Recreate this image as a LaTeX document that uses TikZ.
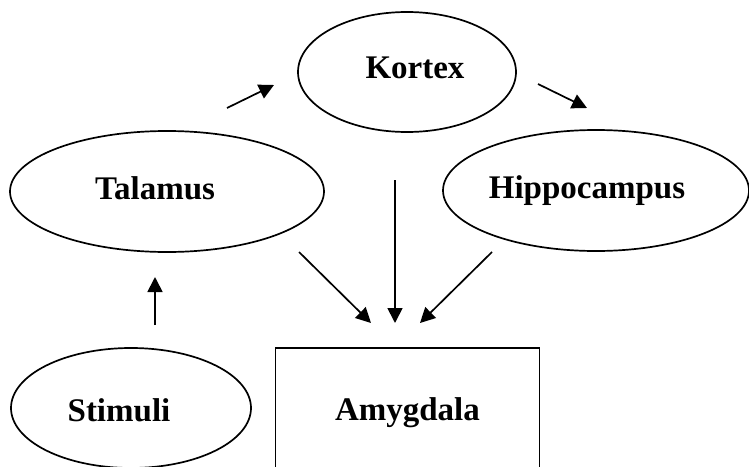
\documentclass[tikz,border=0pt]{standalone}
\usepackage{fontspec}
\setmainfont{Liberation Serif}
\usetikzlibrary{shapes.geometric,arrows.meta}

\begin{document}
\begin{tikzpicture}[x=0.5pt,y=-0.5pt,line width=0.85pt,
		every node/.style={font=\fontsize{16.5}{19}\selectfont\bfseries},
		area/.style={draw,ellipse,inner sep=0pt},
		pfeil/.style={-{Stealth[inset=0pt,length=7.5pt,width=7.5pt]}}]
		\clip (0,0) rectangle (749,466);
		\node[area,minimum width=109pt,minimum height=60pt,label={[xshift=4pt,yshift=2pt]center:Kortex}] (kor) at (407,72) {};
		\node[area,minimum width=157pt,minimum height=60.5pt,label={[xshift=-6pt,yshift=1.75pt]center:Talamus}] (tal) at (167,191.5) {};
		\node[area,minimum width=153pt,minimum height=60.5pt,label={[xshift=-4.5pt]center:Hippocampus}] (hip) at (596,190.5) {};
		\node[area,minimum width=120pt,minimum height=60pt,label={[xshift=-6pt,yshift=-1.25pt]center:Stimuli}] (sti) at (131,408) {};
		\node[draw,rectangle,minimum width=132pt,minimum height=65pt] (amy) at (407.5,413) {Amygdala};
		% lose Pfeilenden
		\coordinate (tal-kor-a) at (227,108);
		\coordinate (tal-kor-b) at (274,85);
		\coordinate (kor-hip-a) at (538,84);
		\coordinate (kor-hip-b) at (587,108);
		\coordinate (sti-tal-a) at (155,325);
		\coordinate (sti-tal-b) at (155,277);
		\coordinate (tal-amy-a) at (299,252);
		\coordinate (tal-amy-b) at (371,323);
		\coordinate (kor-amy-a) at (395,180);
		\coordinate (kor-amy-b) at (395,323);
		\coordinate (hip-amy-a) at (492,252);
		\coordinate (hip-amy-b) at (420,323);
		\path[pfeil]
		(tal-kor-a) edge (tal-kor-b)
		(kor-hip-a) edge (kor-hip-b)
		(sti-tal-a) edge (sti-tal-b)
		(tal-amy-a) edge (tal-amy-b)
		(kor-amy-a) edge (kor-amy-b)
		(hip-amy-a) edge (hip-amy-b);
	\end{tikzpicture}
\end{document}
